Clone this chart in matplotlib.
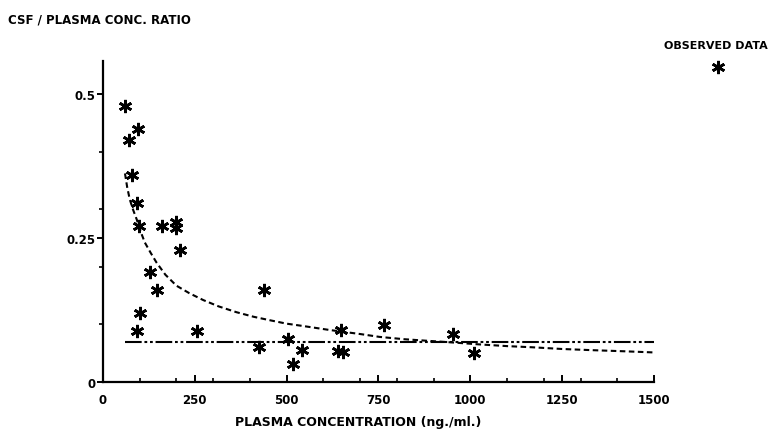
import numpy as np
import matplotlib
matplotlib.use("Agg")
import matplotlib.pyplot as plt
from matplotlib.ticker import FixedLocator, MultipleLocator

plt.rcParams['font.family'] = 'DejaVu Sans'
plt.rcParams['font.weight'] = 'bold'
plt.rcParams['lines.scale_dashes'] = False

# observed data (plasma conc ng/ml, csf/plasma ratio)
obs_x = [60, 96, 71, 78, 92, 99, 160, 200, 198, 209, 128, 146, 100, 92, 256,
         438, 425, 505, 543, 517, 649, 640, 653, 764, 952, 1011]
obs_y = [0.479, 0.440, 0.420, 0.359, 0.310, 0.271, 0.271, 0.278, 0.268, 0.229,
         0.190, 0.159, 0.119, 0.089, 0.089, 0.159, 0.060, 0.074, 0.055, 0.031,
         0.090, 0.053, 0.052, 0.098, 0.083, 0.050]

# fitted curve (dashed)
fit_x = [60, 66, 73, 82, 92, 102, 114, 130, 146, 170, 200, 235, 273, 315, 363,
         410, 454, 500, 544, 617, 700, 753, 820, 889, 960, 1024, 1100, 1168,
         1250, 1330, 1420, 1500]
fit_y = [0.362, 0.338, 0.317, 0.299, 0.282, 0.262, 0.242, 0.224, 0.207, 0.186,
         0.167, 0.154, 0.142, 0.131, 0.121, 0.113, 0.107, 0.101, 0.097, 0.090,
         0.083, 0.078, 0.074, 0.071, 0.068, 0.065, 0.062, 0.060, 0.057, 0.055,
         0.053, 0.051]

# mean ratio (dash-dot)
mean_x = [60, 1500]
mean_y = [0.069, 0.069]

xticks = [0, 250, 500, 750, 1000, 1250, 1500]
xticklabels = ['0', '250', '500', '750', '1000', '1250', '1500']
yticks = [0, 0.25, 0.5]
yticklabels = ['0', '0.25', '0.5']

fig = plt.figure(figsize=(7.74, 4.35), dpi=100)
ax = fig.add_axes([0.133, 0.120, 0.712, 0.737])

ax.plot(fit_x, fit_y, color='black', lw=1.5, dashes=(4, 2.5))
ax.plot(mean_x, mean_y, color='black', lw=1.5, dashes=(12, 2, 2, 2, 2, 2))
ax.plot(obs_x, obs_y, ls='none', marker=(6, 2, 0), ms=9.5, mew=1.9, color='black')

ax.set_xlim(0, 1500)
ax.set_ylim(0, 0.557)
ax.spines['top'].set_visible(False)
ax.spines['right'].set_visible(False)
ax.spines['left'].set_linewidth(1.6)
ax.spines['bottom'].set_linewidth(1.6)

ax.xaxis.set_major_locator(FixedLocator(xticks))
ax.xaxis.set_minor_locator(FixedLocator(list(range(100, 1500, 100))))
ax.yaxis.set_major_locator(FixedLocator(yticks))
ax.yaxis.set_minor_locator(FixedLocator([0.1, 0.2, 0.3, 0.4]))
ax.set_xticklabels(xticklabels)
ax.set_yticklabels(yticklabels)

ax.tick_params(axis='x', which='major', direction='in', length=5, width=1.4, labelsize=8.5, pad=8)
ax.tick_params(axis='x', which='minor', direction='in', length=3, width=1.2)
ax.tick_params(axis='y', which='major', direction='out', length=4, width=1.4, labelsize=8.5, pad=1)
ax.tick_params(axis='y', which='minor', direction='out', length=3, width=1.2)

ax.set_xlabel('PLASMA CONCENTRATION (ng./ml.)', fontsize=9, fontweight='bold')
ax.xaxis.set_label_coords(0.463, -0.105)

fig.text(0.010, 0.955, 'CSF / PLASMA CONC. RATIO', fontsize=8.5, fontweight='bold',
         ha='left', va='center')
fig.text(0.925, 0.894, 'OBSERVED DATA', fontsize=8, fontweight='bold',
         ha='center', va='center')
fig.lines.append(plt.Line2D([0.928], [0.844], transform=fig.transFigure, ls='none',
                            marker=(6, 2, 0), ms=9.5, mew=1.9, color='black'))

fig.savefig('out.png', dpi=100)
